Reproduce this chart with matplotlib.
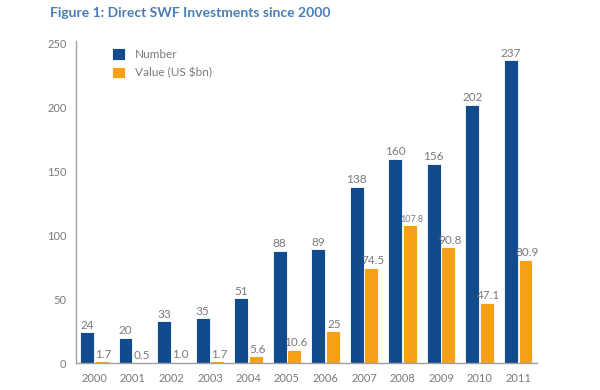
import matplotlib
matplotlib.use("Agg")
import matplotlib.pyplot as plt
import numpy as np

plt.rcParams['font.family'] = ['Lato', 'DejaVu Sans']

years = ["2000", "2001", "2002", "2003", "2004", "2005", "2006",
         "2007", "2008", "2009", "2010", "2011"]
number = [24, 20, 33, 35, 51, 88, 89, 138, 160, 156, 202, 237]
value = [1.7, 0.5, 1.0, 1.7, 5.6, 10.6, 25, 74.5, 107.8, 90.8, 47.1, 80.9]
value_labels = ["1.7", "0.5", "1.0", "1.7", "5.6", "10.6", "25",
                "74.5", "107.8", "90.8", "47.1", "80.9"]

blue = '#124a8e'
orange = '#f6a01a'
grey = '#7a7a7a'

fig = plt.figure(figsize=(6, 3.9), dpi=100)
ax = fig.add_axes([0.127, 0.069, 0.768, 0.826])

x = np.arange(len(years))
w = 0.36
b1 = ax.bar(x - w / 2 - 0.01, number, w, color=blue, edgecolor='white', linewidth=0.6, label='Number')
b2 = ax.bar(x + w / 2 + 0.01, value, w, color=orange, edgecolor='white', linewidth=0.6, label='Value (US $bn)')

# valores em cima das barras
for i in range(len(years)):
    ax.annotate(str(number[i]), (x[i] - w / 2 - 0.01, number[i]), textcoords="offset points",
                xytext=(0, 1), ha='center', va='bottom', fontsize=8.5, color=grey)
    fs = 6.5 if value_labels[i] == "107.8" else 8.5
    ax.annotate(value_labels[i], (x[i] + w / 2 + 0.06, value[i]), textcoords="offset points",
                xytext=(0, 1), ha='center', va='bottom', fontsize=fs, color=grey)

ax.set_xlim(-0.47, 11.49)
ax.set_ylim(0, 252)
ax.set_yticks([0, 50, 100, 150, 200, 250])
ax.set_xticks(x)
ax.set_xticklabels(years)
ax.tick_params(axis='both', length=0, labelsize=8, colors=grey, pad=7)
ax.tick_params(axis='y', pad=7)

for s in ['top', 'right']:
    ax.spines[s].set_visible(False)
ax.spines['left'].set_color('#a0a0a0')
ax.spines['bottom'].set_color('#a0a0a0')
ax.spines['left'].set_linewidth(1.0)
ax.spines['bottom'].set_linewidth(1.0)

leg = ax.legend(loc='upper left', bbox_to_anchor=(0.055, 1.01), frameon=False, fontsize=8.5,
                handlelength=1.1, handleheight=1.1, handletextpad=0.8, labelspacing=0.55)
for t in leg.get_texts():
    t.set_color(grey)

fig.text(0.083, 0.967, "Figure 1: Direct SWF Investments since 2000", fontsize=10,
         fontweight='bold', color='#4a7db5', ha='left', va='center')

plt.savefig('out.png', dpi=100)
